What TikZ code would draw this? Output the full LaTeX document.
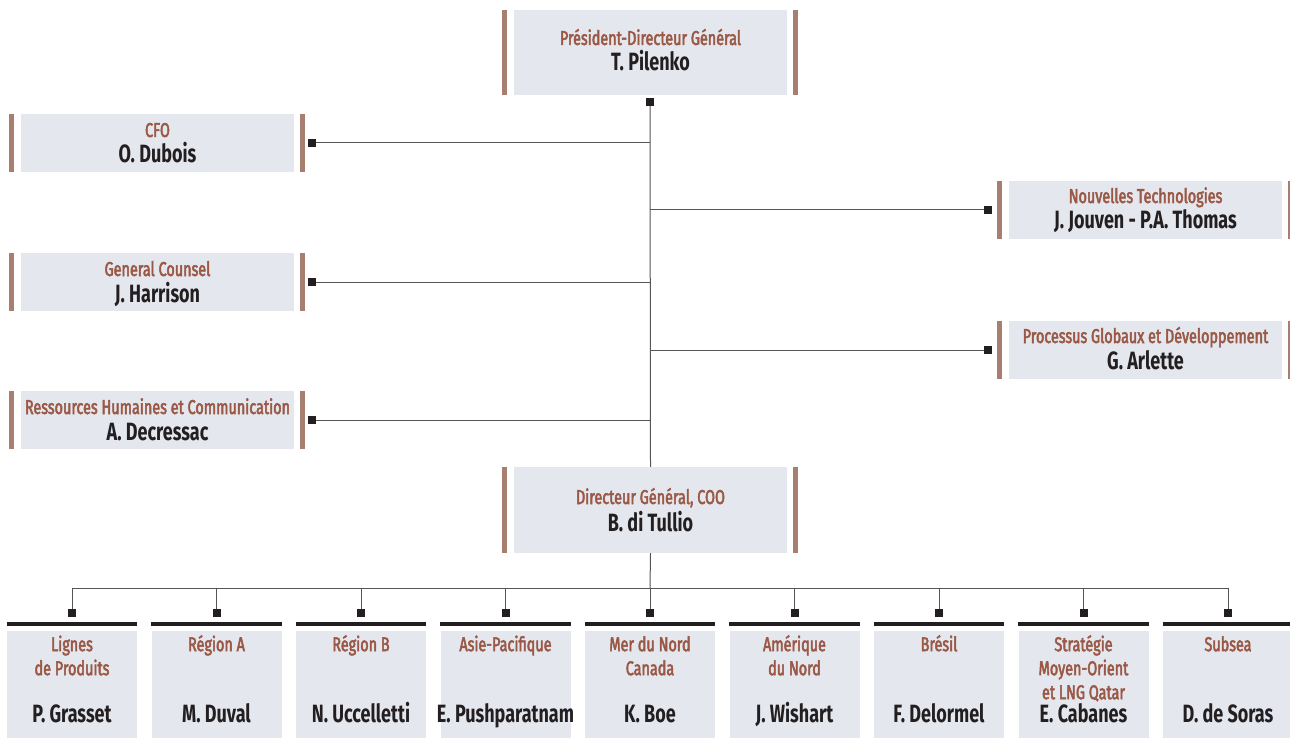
\documentclass[tikz,border=0pt]{standalone}
\usepackage{fontspec}
\setmainfont{Fira Sans}[FakeStretch=0.72]
\newfontfamily\rolefont{Fira Sans}[FakeStretch=0.72, FakeBold=2.5]
\definecolor{boxfill}{HTML}{E4E7EE}
\definecolor{barc}{HTML}{A67F70}
\definecolor{rolec}{HTML}{9A5845}
\definecolor{namec}{HTML}{231F20}
\definecolor{linec}{HTML}{555555}
\tikzset{
  box/.style={fill=boxfill, draw=none, inner sep=0pt, minimum width=#1},
  role/.style={text=rolec, inner sep=0pt, anchor=base, font=\rolefont\fontsize{20}{24}\selectfont},
  brole/.style={text=rolec, inner sep=0pt, anchor=north, align=center, font=\rolefont\fontsize{20}{24}\selectfont},
  pname/.style={text=namec, inner sep=0pt, anchor=base, font=\fontsize{25}{30}\selectfont\bfseries},
  sq/.style={fill=namec, draw=none, inner sep=0pt, minimum size=8pt},
  conn/.style={draw=linec, line width=1pt},
}
\newcommand\sidebars[1]{%
  \fill[barc] ([xshift=-12pt]#1.south west) rectangle ([xshift=-7pt]#1.north west);
  \fill[barc] ([xshift=6pt]#1.south east) rectangle ([xshift=11pt]#1.north east);}
\begin{document}
\begin{tikzpicture}[x=1pt,y=1pt]
\useasboundingbox (0,0) rectangle (1290,-738);
% top
\node[box=273pt, minimum height=85pt] (pdg) at (650.5,-52.5) {};
\sidebars{pdg}
\node[role] (pdg-r) at (650.5,-45) {Président-Directeur Général};
\node[pname] (pdg-n) at (650.5,-71) {T. Pilenko};
% COO
\node[box=273pt, minimum height=86pt] (coo) at (650.5,-510) {};
\sidebars{coo}
\node[role] (coo-r) at (650.5,-504) {Directeur Général, COO};
\node[pname] (coo-n) at (650.5,-531) {B. di Tullio};
% left
\node[box=273pt, minimum height=58pt] (cfo) at (157.5,-143) {};
\sidebars{cfo}
\node[role] (cfo-r) at (157.5,-137) {CFO};
\node[pname] (cfo-n) at (157.5,-163) {O. Dubois};
\node[box=273pt, minimum height=58pt] (gc) at (157.5,-282) {};
\sidebars{gc}
\node[role] (gc-r) at (157.5,-276) {General Counsel};
\node[pname] (gc-n) at (157.5,-302) {J. Harrison};
\node[box=273pt, minimum height=58pt] (rh) at (157.5,-420) {};
\sidebars{rh}
\node[role] (rh-r) at (157.5,-414) {Ressources Humaines et Communication};
\node[pname] (rh-n) at (157.5,-440) {A. Decressac};
% right
\node[box=273pt, minimum height=58pt] (nt) at (1145.5,-210) {};
\sidebars{nt}
\node[role] (nt-r) at (1145.5,-203) {Nouvelles Technologies};
\node[pname] (nt-n) at (1145.5,-229) {J. Jouven - P.A. Thomas};
\node[box=273pt, minimum height=58pt] (pg) at (1145.5,-350) {};
\sidebars{pg}
\node[role] (pg-r) at (1145.5,-343) {Processus Globaux et Développement};
\node[pname] (pg-n) at (1145.5,-369) {G. Arlette};
% squares
\node[sq] (s0) at (650,-102) {};
\node[sq] (sl1) at (312,-143) {};
\node[sq] (sl2) at (312,-282) {};
\node[sq] (sl3) at (312,-420) {};
\node[sq] (sr1) at (988,-210) {};
\node[sq] (sr2) at (988,-350) {};
\draw[conn] (s0) -- (coo.north);
\foreach \s in {sl1,sl2,sl3,sr1,sr2}
  \draw[conn] (\s) -- (\s -| s0);
% bottom
\coordinate (bus) at (650,-588);
\draw[conn] (coo.south) -- (bus);
\foreach \i/\x/\r/\n in {
  1/72/{Lignes\\de Produits}/P. Grasset,
  2/216.5/{Région A}/M. Duval,
  3/361/{Région B}/N. Uccelletti,
  4/505.5/{Asie-Pacifique}/E. Pushparatnam,
  5/650/{Mer du Nord\\Canada}/K. Boe,
  6/794.5/{Amérique\\du Nord}/J. Wishart,
  7/939/{Brésil}/F. Delormel,
  8/1083.5/{Stratégie\\Moyen-Orient\\et LNG Qatar}/E. Cabanes,
  9/1228/{Subsea}/D. de Soras}{
  \node[box=130pt, minimum height=107pt] (b\i) at (\x,-684.5) {};
  \fill[namec] ([yshift=9pt]b\i.north west) rectangle ([yshift=5pt]b\i.north east);
  \node[brole] (b\i-r) at (\x,-635) {\rule{0pt}{16pt}\r};
  \node[pname] (b\i-n) at (\x,-722) {\n};
  \node[sq] (sb\i) at (\x,-613) {};
  \draw[conn] (bus -| sb\i) -- (sb\i);
}
\draw[conn] (bus -| sb1) -- (bus -| sb9);
\end{tikzpicture}
\end{document}
